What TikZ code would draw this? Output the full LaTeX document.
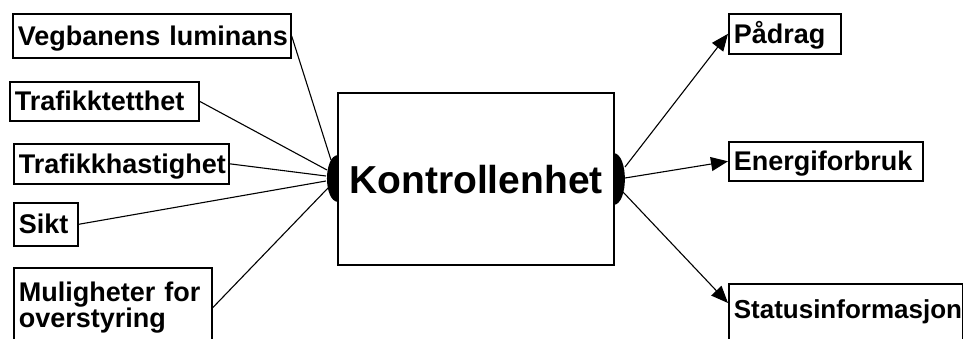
\documentclass[tikz,border=0pt]{standalone}
\usepackage{fontspec}
\setmainfont{Liberation Sans}
\usetikzlibrary{arrows.meta}
\tikzset{
  lbl/.style={draw, line width=1.6pt, anchor=north west, inner xsep=5pt, inner ysep=0pt,
    align=left, font=\fontsize{27}{28}\selectfont\bfseries, text height=19.3pt, text depth=0pt},
  conn/.style={line width=1.1pt},
  arr/.style={line width=1.1pt, -{Triangle[length=17pt, width=14pt]}},
  blob/.style={fill=black}
}
\begin{document}
\begin{tikzpicture}[x=1pt, y=-1pt]
\useasboundingbox (0,0) rectangle (963,338);
\clip (0,0) rectangle (963,338);
% input boxes
\node[lbl, text width=268pt, minimum height=44pt] (veg) at (12,13) {\mbox{Vegbanens luminans}};
\node[lbl, text width=179pt, minimum height=39pt] (tett) at (9,81) {\mbox{Trafikktetthet}};
\node[lbl, text width=205pt, minimum height=40pt] (hast) at (13,143) {\mbox{Trafikkhastighet}};
\node[lbl, text width=54pt, minimum height=43pt] (sikt) at (13,202) {\mbox{Sikt}};
\node[lbl, text width=188pt, inner ysep=11pt, text height=, text depth=, minimum height=80pt,
  font=\fontsize{27}{26.5}\selectfont\bfseries] (mul) at (13,267) {\mbox{Muligheter for}\\\mbox{overstyring}};
% control unit
\node[draw, line width=1.6pt, minimum width=276pt, minimum height=172pt, inner sep=0pt,
  font=\fontsize{39}{42}\selectfont\bfseries, text height=28pt, text depth=0pt] (ctrl) at (476,179) {Kontrollenhet};
\fill[blob] (338,155) .. controls (323.3,156) and (323.3,201) .. (338,202) -- cycle;
\fill[blob] (614,153) .. controls (628.5,155) and (628.5,203) .. (614,205) -- cycle;
% output boxes
\node[lbl, text width=102pt, minimum height=40pt] (pad) at (728,13) {\mbox{Pådrag}};
\node[lbl, text width=184pt, minimum height=39pt] (energi) at (728,141) {\mbox{Energiforbruk}};
\node[lbl, text width=224pt, inner ysep=16pt, text depth=20pt,
  font=\fontsize{26}{28}\selectfont\bfseries, text height=18.6pt] (status) at (728,283) {\mbox{Statusinformasjon}};
% connector end points
\coordinate (L1) at (331,160);
\coordinate (L2) at (327,170);
\coordinate (L3) at (326,176);
\coordinate (L4) at (326,181);
\coordinate (L5) at (328,188);
\coordinate (R1) at (625,167);
\coordinate (R2) at (625,178);
\coordinate (R3) at (623,192);
\coordinate (S) at (728,303);
% input connectors
\draw[conn] (veg.east) -- (L1);
\draw[conn] (tett.east) -- (L2);
\draw[conn] (hast.east) -- (L3);
\draw[conn] (sikt.east) -- (L4);
\draw[conn] (mul.east) -- (L5);
% output arrows
\draw[arr] (R1) -- (pad.west);
\draw[arr] (R2) -- (energi.west);
\draw[arr] (R3) -- (S);
\end{tikzpicture}
\end{document}
